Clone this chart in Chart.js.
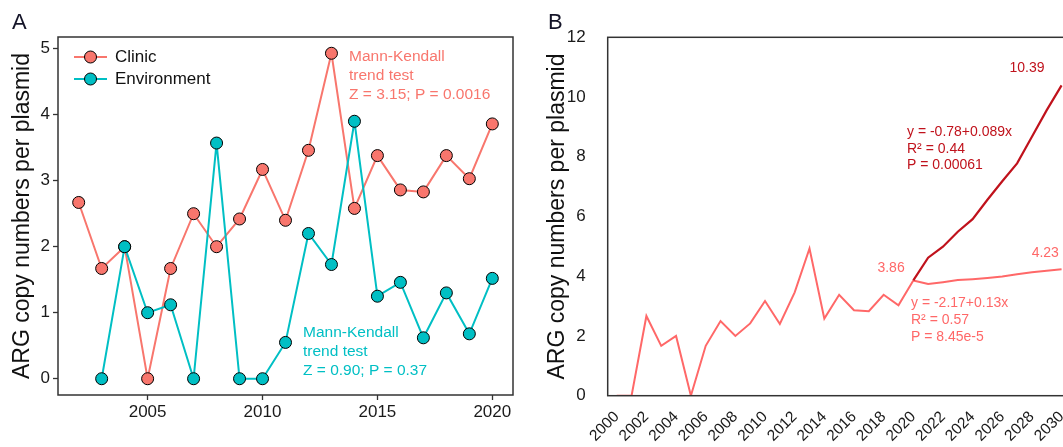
<!DOCTYPE html>
<html><head><meta charset="utf-8">
<script src="https://cdn.jsdelivr.net/npm/chart.js@4.4.1/dist/chart.umd.min.js"></script>
<style>
html,body{margin:0;padding:0;background:#fff;overflow:hidden;width:1063px;height:447px;}
canvas{position:absolute;top:0;}
#a{left:0}
#b{left:530px}
</style></head><body>
<canvas id="a" width="530" height="447"></canvas>
<canvas id="b" width="545" height="447"></canvas>
<script>
// ---------- Panel A data ----------
const yearsA = [2002,2003,2004,2005,2006,2007,2008,2009,2010,2011,2012,2013,2014,2015,2016,2017,2018,2019,2020];
const clinic = [2.67,1.67,2.00,0,1.67,2.50,2.00,2.42,3.17,2.40,3.46,4.93,2.58,3.38,2.86,2.83,3.38,3.03,3.86];
const environment = [null,0,2.00,1.00,1.12,0,3.57,0,0,0.55,2.20,1.73,3.90,1.25,1.46,0.62,1.30,0.68,1.52];
const xTicksA = [2005,2010,2015,2020];
const yTicksA = [0,1,2,3,4,5];
const seriesNamesA = ['Clinic','Environment'];

// ---------- Panel B data ----------
const yearsB = [2000,2001,2002,2003,2004,2005,2006,2007,2008,2009,2010,2011,2012,2013,2014,2015,2016,2017,2018,2019,2020];
const observedB = [0,0,2.67,1.67,2.00,0,1.67,2.50,2.00,2.42,3.17,2.40,3.46,4.93,2.58,3.38,2.86,2.83,3.38,3.03,3.86];
const yearsProj = [2020,2021,2022,2023,2024,2025,2026,2027,2028,2029,2030];
const projSlow = [3.86,3.74,3.80,3.87,3.90,3.94,3.99,4.07,4.13,4.18,4.23];
const projFast = [3.86,4.62,4.99,5.49,5.91,6.56,7.18,7.78,8.67,9.56,10.39];
const xTicksB = [2000,2002,2004,2006,2008,2010,2012,2014,2016,2018,2020,2022,2024,2026,2028,2030];
const yTicksB = [0,2,4,6,8,10,12];

const FONT = "'Liberation Sans', Arial, Helvetica, sans-serif";
const CLINIC = '#F8766D', ENV = '#00BFC4';
const LIGHT = '#FF6868', DARK = '#C0121C';
const INK = '#1a1a1a';

function pts(xs, ys){ return xs.map((x,i)=>({x:x, y:ys[i]})).filter(p=>p.y!==null); }
function txt(ctx, s, x, y, size, color, align){
  ctx.save();
  ctx.font = size + 'px ' + FONT;
  ctx.fillStyle = color;
  ctx.textAlign = align || 'left';
  ctx.textBaseline = 'middle';
  ctx.fillText(s, x, y);
  ctx.restore();
}
function noSidePad(s){ s.paddingLeft = 0; s.paddingRight = 0; s.paddingTop = 0; s.paddingBottom = 0; }

// ---------- Panel A ----------
const plugA = {
  id:'plugA',
  afterDraw(chart){
    const ctx = chart.ctx, a = chart.chartArea;
    ctx.save();
    ctx.strokeStyle = '#333'; ctx.lineWidth = 1.5;
    ctx.strokeRect(a.left, a.top, a.right-a.left, a.bottom-a.top);
    ctx.restore();
    txt(ctx, 'A', 12, 23, 22, '#141428');
    // legend
    chart.data.datasets.forEach((ds, i) => {
      const y = 57 + i*22;
      ctx.save();
      ctx.strokeStyle = ds.borderColor; ctx.lineWidth = 2;
      ctx.beginPath(); ctx.moveTo(74, y); ctx.lineTo(107, y); ctx.stroke();
      ctx.beginPath(); ctx.arc(90.5, y, 6, 0, Math.PI*2);
      ctx.fillStyle = ds.backgroundColor; ctx.fill();
      ctx.strokeStyle = '#000'; ctx.lineWidth = 1; ctx.stroke();
      ctx.restore();
      txt(ctx, ds.label, 115, y, 17, '#111');
    });
    // Mann-Kendall annotations
    const red = ['Mann-Kendall','trend test','Z = 3.15; P = 0.0016'];
    red.forEach((s,i)=>txt(ctx, s, 349, 57 + i*19, 15.5, CLINIC));
    const cy = ['Mann-Kendall','trend test','Z = 0.90; P = 0.37'];
    cy.forEach((s,i)=>txt(ctx, s, 303, 332.5 + i*19, 15.5, ENV));
  }
};

new Chart(document.getElementById('a'), {
  type:'line',
  data:{ datasets:[
    {label:seriesNamesA[0], data:pts(yearsA, clinic), borderColor:CLINIC, backgroundColor:CLINIC,
     borderWidth:2, pointRadius:6, pointBorderColor:'#000', pointBorderWidth:1, pointBackgroundColor:CLINIC, order:2, tension:0},
    {label:seriesNamesA[1], data:pts(yearsA, environment), borderColor:ENV, backgroundColor:ENV,
     borderWidth:2, pointRadius:6, pointBorderColor:'#000', pointBorderWidth:1, pointBackgroundColor:ENV, order:1, tension:0}
  ]},
  options:{
    responsive:false, animation:false, devicePixelRatio:1,
    layout:{padding:{left:0, top:37, right:17, bottom:0}},
    plugins:{legend:{display:false}, tooltip:{enabled:false}},
    scales:{
      x:{type:'linear', min:2001.1, max:2020.9,
        afterBuildTicks:s=>{ s.ticks = xTicksA.map(v=>({value:v})); },
        afterFit:s=>{ s.height = 52; noSidePad(s); },
        grid:{drawOnChartArea:false, drawTicks:true, tickLength:5, tickColor:'#333', tickWidth:1.3},
        border:{display:false},
        ticks:{font:{family:FONT, size:17}, color:INK, padding:2, maxRotation:0, autoSkip:false, callback:v=>String(v)}
      },
      y:{type:'linear', min:-0.2465, max:5.1765,
        afterBuildTicks:s=>{ s.ticks = yTicksA.map(v=>({value:v})); },
        afterFit:s=>{ s.width = 58; noSidePad(s); },
        grid:{drawOnChartArea:false, drawTicks:true, tickLength:5, tickColor:'#333', tickWidth:1.3},
        border:{display:false},
        ticks:{font:{family:FONT, size:17}, color:INK, padding:3},
        title:{display:true, text:'ARG copy numbers per plasmid', font:{family:FONT, size:23}, color:'#111', padding:{top:9, bottom:0}}
      }
    }
  },
  plugins:[plugA]
});

// ---------- Panel B ----------
const plugB = {
  id:'plugB',
  afterDraw(chart){
    const ctx = chart.ctx, a = chart.chartArea;
    const xs = chart.scales.x;
    ctx.save();
    ctx.strokeStyle = '#333'; ctx.lineWidth = 1.5;
    ctx.strokeRect(a.left, a.top, a.right-a.left, a.bottom-a.top);
    ctx.restore();
    txt(ctx, 'B', 18, 23, 22, '#141428');
    txt(ctx, projFast[projFast.length-1].toFixed(2), xs.getPixelForValue(2027.67), 68, 14, DARK, 'center');
    txt(ctx, projSlow[projSlow.length-1].toFixed(2), xs.getPixelForValue(2028.9), 253, 14, LIGHT, 'center');
    txt(ctx, observedB[observedB.length-1].toFixed(2), xs.getPixelForValue(2018.5), 268, 14, LIGHT, 'center');
    const dark = ['y = -0.78+0.089x','R\u00B2 = 0.44','P = 0.00061'];
    dark.forEach((s,i)=>txt(ctx, s, 907-530, 132 + i*16.7, 14, DARK));
    const light = ['y = -2.17+0.13x','R\u00B2 = 0.57','P = 8.45e-5'];
    light.forEach((s,i)=>txt(ctx, s, 911-530, 303.5 + i*16.8, 14, LIGHT));
  }
};

new Chart(document.getElementById('b'), {
  type:'line',
  data:{ datasets:[
    {label:'Observed', data:pts(yearsB, observedB), borderColor:LIGHT, borderWidth:2, pointRadius:0, tension:0, order:3},
    {label:'Projection (linear)', data:pts(yearsProj, projSlow), borderColor:LIGHT, borderWidth:2, pointRadius:0, tension:0, order:2},
    {label:'Projection (accelerating)', data:pts(yearsProj, projFast), borderColor:DARK, borderWidth:2.2, pointRadius:0, tension:0, order:1}
  ]},
  options:{
    responsive:false, animation:false, devicePixelRatio:1,
    layout:{padding:{left:0, top:37.3, right:7.5, bottom:0}},
    plugins:{legend:{display:false}, tooltip:{enabled:false}},
    scales:{
      x:{type:'linear', min:1999.39, max:2030.4,
        afterBuildTicks:s=>{ s.ticks = xTicksB.map(v=>({value:v})); },
        afterFit:s=>{ s.height = 51.3; noSidePad(s); },
        grid:{display:false},
        border:{display:false},
        ticks:{font:{family:FONT, size:15.5}, color:INK, padding:4, minRotation:45, maxRotation:45, autoSkip:false, callback:v=>String(v)}
      },
      y:{type:'linear', min:0, max:12,
        afterBuildTicks:s=>{ s.ticks = yTicksB.map(v=>({value:v})); },
        afterFit:s=>{ s.width = 77.7; noSidePad(s); },
        grid:{display:false},
        border:{display:false},
        ticks:{font:{family:FONT, size:17}, color:INK, padding:14},
        title:{display:true, text:'ARG copy numbers per plasmid', font:{family:FONT, size:23}, color:'#111', padding:{top:14, bottom:0}}
      }
    }
  },
  plugins:[plugB]
});
</script>
</body></html>
